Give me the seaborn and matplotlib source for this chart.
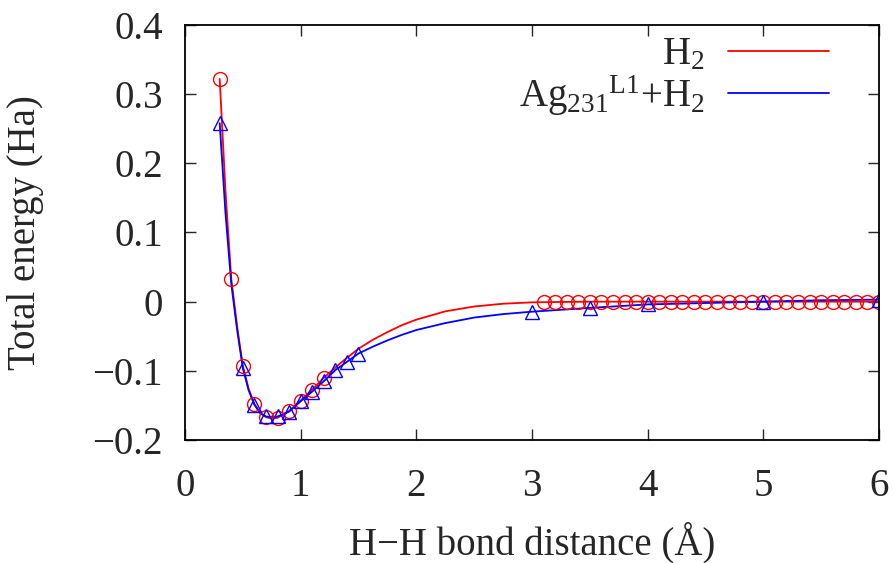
import matplotlib
matplotlib.use("Agg")
import matplotlib.pyplot as plt
import seaborn as sns

# points calcules (cercles rouges) : H2 seul
h2_x = [0.3, 0.4, 0.5, 0.6, 0.7, 0.8, 0.9, 1.0, 1.1, 1.2,
        3.1, 3.2, 3.3, 3.4, 3.5, 3.6, 3.7, 3.8, 3.9, 4.0,
        4.1, 4.2, 4.3, 4.4, 4.5, 4.6, 4.7, 4.8, 4.9, 5.0,
        5.1, 5.2, 5.3, 5.4, 5.5, 5.6, 5.7, 5.8, 5.9, 6.0]
h2_y = [0.322, 0.033, -0.093, -0.148, -0.167, -0.168, -0.158, -0.144, -0.128, -0.110,
        0.0, 0.0, 0.0, 0.0, 0.0, 0.0, 0.0, 0.0, 0.0, 0.0,
        0.0, 0.0, 0.0, 0.0, 0.0, 0.0, 0.0, 0.0, 0.0, 0.0,
        0.0, 0.0, 0.0, 0.0, 0.0, 0.0, 0.0, 0.0, 0.0, 0.0]

# points calcules (triangles bleus) : Ag231 L1 + H2
ag_x = [0.3, 0.5, 0.6, 0.7, 0.8, 0.9, 1.0, 1.1, 1.2, 1.3, 1.4, 1.5,
        3.0, 3.5, 4.0, 5.0, 6.0]
ag_y = [0.258, -0.096, -0.149, -0.166, -0.166, -0.159, -0.144, -0.130, -0.115,
        -0.099, -0.087, -0.075, -0.0145, -0.009, -0.004, 0.0, 0.003]

# courbes lissees
h2_line_x = [0.3, 0.35, 0.4, 0.45, 0.5, 0.55, 0.6, 0.65, 0.7, 0.75, 0.8, 0.9,
             1.0, 1.1, 1.2, 1.35, 1.5, 1.625, 1.75, 1.875, 2.0, 2.25, 2.5, 2.75,
             3.0, 3.5, 4.0, 5.0, 6.0]
h2_line_y = [0.322, 0.16, 0.033, -0.035, -0.093, -0.126, -0.148, -0.161, -0.167,
             -0.169, -0.168, -0.158, -0.143, -0.127, -0.110, -0.088, -0.068,
             -0.055, -0.044, -0.034, -0.026, -0.014, -0.007, -0.003, -0.001,
             0.0, 0.0, 0.0, 0.0]

ag_line_x = [0.3, 0.35, 0.4, 0.45, 0.5, 0.55, 0.6, 0.65, 0.7, 0.75, 0.8, 0.9,
             1.0, 1.1, 1.2, 1.3, 1.4, 1.5, 1.625, 1.75, 1.875, 2.0, 2.25, 2.5,
             2.75, 3.0, 3.5, 4.0, 4.5, 5.0, 5.5, 6.0]
ag_line_y = [0.258, 0.128, 0.026, -0.040, -0.096, -0.128, -0.149, -0.161, -0.166,
             -0.167, -0.166, -0.159, -0.144, -0.130, -0.115, -0.099, -0.087,
             -0.075, -0.065, -0.056, -0.048, -0.041, -0.031, -0.023, -0.018,
             -0.0145, -0.009, -0.004, -0.002, 0.0, 0.002, 0.003]

sns.set_style("ticks")
plt.rcParams["font.family"] = "serif"
plt.rcParams["font.serif"] = ["Liberation Serif", "Times New Roman", "DejaVu Serif"]
plt.rcParams["mathtext.fontset"] = "custom"
plt.rcParams["mathtext.rm"] = "Liberation Serif"
plt.rcParams["mathtext.it"] = "Liberation Serif:italic"
plt.rcParams["font.size"] = 28

fig = plt.figure(figsize=(8.95, 5.63), dpi=100)
ax = fig.add_axes([0.2067, 0.2185, 0.7754, 0.7371])

# courbes
sns.lineplot(x=h2_line_x, y=h2_line_y, ax=ax, color="red", lw=1.3,
             label=r"H$_2$", estimator=None, sort=False)
sns.lineplot(x=ag_line_x, y=ag_line_y, ax=ax, color="blue", lw=1.3,
             label=r"Ag$_{231}{}^{\rm L1}$+H$_2$", estimator=None, sort=False)

# marqueurs
sns.lineplot(x=h2_x, y=h2_y, ax=ax, linestyle="", marker="o", markersize=10,
             markerfacecolor="none", markeredgecolor="red", markeredgewidth=1.0,
             estimator=None, sort=False, legend=False)
sns.lineplot(x=ag_x, y=ag_y, ax=ax, linestyle="", marker="^", markersize=10,
             markerfacecolor="none", markeredgecolor="blue", markeredgewidth=1.0,
             estimator=None, sort=False, legend=False)

ax.set_xlim(0, 6)
ax.set_ylim(-0.2, 0.4)
ax.set_xticks([0, 1, 2, 3, 4, 5, 6])
ax.set_yticks([-0.2, -0.1, 0, 0.1, 0.2, 0.3, 0.4])
ax.set_yticklabels(["\u22120.2", "\u22120.1", "0", "0.1", "0.2", "0.3", "0.4"])
ax.tick_params(direction="in", length=8, width=1.0, top=True, right=True,
               labelsize=28)
ax.tick_params(axis="x", pad=20)
ax.tick_params(axis="y", pad=16)
for s in ax.spines.values():
    s.set_linewidth(1.3)
    s.set_color("black")

ax.set_xlabel("H\u2212H bond distance (\u00c5)", fontsize=28)
ax.set_ylabel("Total energy (Ha)", fontsize=28)
ax.yaxis.set_label_coords(-0.203, 0.5)
ax.xaxis.set_label_coords(0.5, -0.198)

ax.legend(loc="upper right", bbox_to_anchor=(0.951, 1.01), frameon=False,
          markerfirst=False, handlelength=2.6, handletextpad=0.6,
          labelspacing=0.0, borderaxespad=0, fontsize=28)

fig.savefig("out.png", dpi=100)
